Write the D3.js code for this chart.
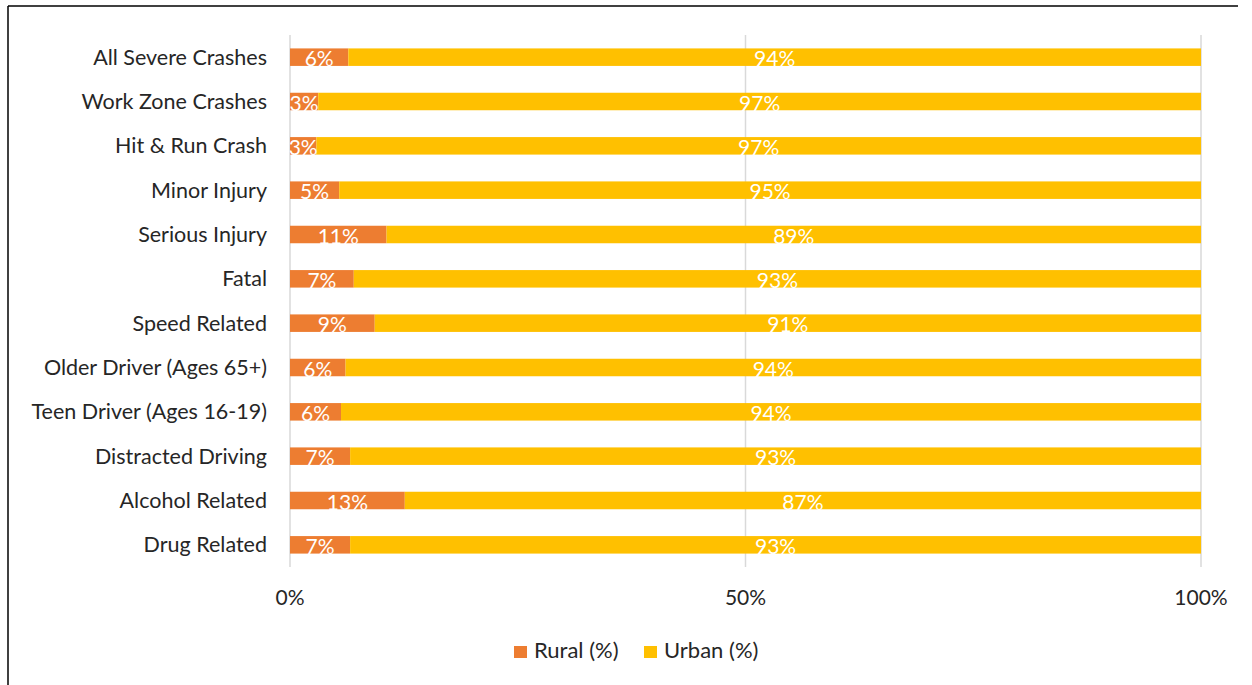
<!DOCTYPE html>
<html>
<head>
<meta charset="utf-8">
<script src="https://cdn.jsdelivr.net/npm/d3@7"></script>
<style>
  html, body { margin: 0; padding: 0; background: #fff; }
  svg { display: block; }
  text { font-family: Lato, "Open Sans", sans-serif; }
</style>
</head>
<body>
<svg id="chart" width="1252" height="685"></svg>
<script>
const categories = [
  "All Severe Crashes", "Work Zone Crashes", "Hit & Run Crash", "Minor Injury",
  "Serious Injury", "Fatal", "Speed Related", "Older Driver (Ages 65+)",
  "Teen Driver (Ages 16-19)", "Distracted Driving", "Alcohol Related", "Drug Related"
];
const rural = [6.4, 3.1, 2.9, 5.4, 10.6, 7.0, 9.3, 6.1, 5.6, 6.6, 12.6, 6.6];
const urban = [93.6, 96.9, 97.1, 94.6, 89.4, 93.0, 90.7, 93.9, 94.4, 93.4, 87.4, 93.4];
const seriesNames = ["Rural (%)", "Urban (%)"];
const xTicks = [0, 50, 100];

const colors = ["#ED7D31", "#FFC000"];
const svg = d3.select("#chart");

// frame
svg.append("line").attr("x1", 8).attr("x2", 1238).attr("y1", 6).attr("y2", 6)
  .attr("stroke", "#000").attr("stroke-width", 1.5);
svg.append("line").attr("x1", 8).attr("x2", 8).attr("y1", 6).attr("y2", 685)
  .attr("stroke", "#000").attr("stroke-width", 1.5);

const x = d3.scaleLinear().domain([0, 100]).range([290, 1201]);
const y = d3.scaleBand().domain(categories).range([35, 567])
  .paddingInner(0.605).paddingOuter(0.3025);

// gridlines
svg.append("g").selectAll("line").data(xTicks).join("line")
  .attr("x1", d => x(d)).attr("x2", d => x(d))
  .attr("y1", 35).attr("y2", 567)
  .attr("stroke", "#d9d9d9").attr("stroke-width", 1.5);

const rows = categories.map((c, i) => ({ c, r: rural[i], u: urban[i] }));

// stacked bars
const g = svg.append("g");
g.selectAll("rect.rural").data(rows).join("rect").attr("class", "rural")
  .attr("x", x(0)).attr("y", d => y(d.c))
  .attr("width", d => x(d.r) - x(0)).attr("height", y.bandwidth())
  .attr("fill", colors[0]);
g.selectAll("rect.urban").data(rows).join("rect").attr("class", "urban")
  .attr("x", d => x(d.r)).attr("y", d => y(d.c))
  .attr("width", d => x(d.r + d.u) - x(d.r)).attr("height", y.bandwidth())
  .attr("fill", colors[1]);

// data labels
const lbl = svg.append("g").attr("font-size", 21).attr("fill", "#fff").attr("text-anchor", "middle");
lbl.selectAll("text.rl").data(rows).join("text").attr("class", "rl")
  .attr("x", d => (x(0) + x(d.r)) / 2)
  .attr("y", d => y(d.c) + y.bandwidth() / 2 + 9)
  .text(d => Math.round(d.r) + "%");
lbl.selectAll("text.ul").data(rows).join("text").attr("class", "ul")
  .attr("x", d => (x(d.r) + x(d.r + d.u)) / 2)
  .attr("y", d => y(d.c) + y.bandwidth() / 2 + 9)
  .text(d => Math.round(d.u) + "%");

// category labels
svg.append("g").attr("font-size", 21.5).attr("fill", "#262626").attr("text-anchor", "end")
  .selectAll("text").data(categories).join("text")
  .attr("x", 267).attr("y", d => y(d) + y.bandwidth() / 2 + 7.5)
  .text(d => d);

// x tick labels
svg.append("g").attr("font-size", 21).attr("fill", "#262626").attr("text-anchor", "middle")
  .selectAll("text").data(xTicks).join("text")
  .attr("x", d => x(d)).attr("y", 605)
  .text(d => d + "%");

// legend
const legX = [514, 644];
const leg = svg.append("g").selectAll("g").data(seriesNames).join("g")
  .attr("transform", (d, i) => `translate(${legX[i]},0)`);
leg.append("rect").attr("x", 0).attr("y", 646).attr("width", 13).attr("height", 12)
  .attr("fill", (d, i) => colors[i]);
leg.append("text").attr("x", 20).attr("y", 658).attr("font-size", 22).attr("fill", "#262626")
  .text(d => d);
</script>
</body>
</html>
